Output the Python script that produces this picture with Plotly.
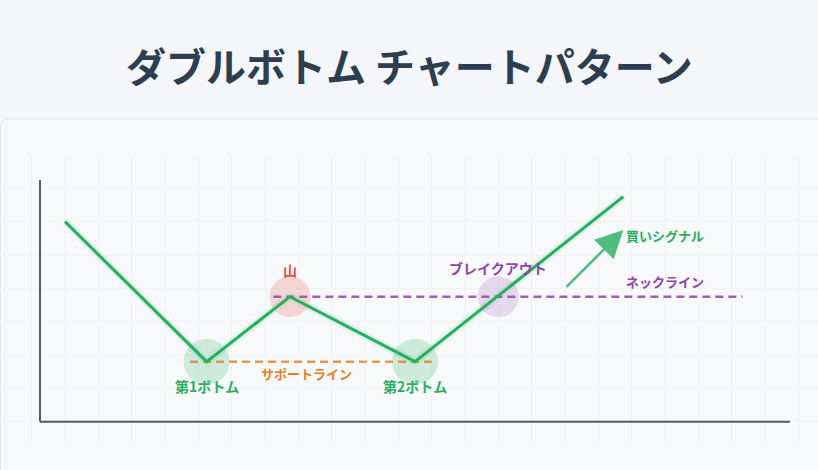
import plotly.graph_objects as go

# ---- data ----
time_x = [80, 250, 350, 500, 750]
price = [240, 72, 150, 72, 270]

bottom_x = [250, 500]
bottom_y = [72, 72]
peak_x = [350]
peak_y = [150]
breakout_x = [600]
breakout_y = [150]

support_x = [230, 520]
support_y = [72, 72]
neck_x = [330, 893]
neck_y = [150, 150]

axis_v_x = [50, 50]
axis_v_y = [0, 290]
axis_h_x = [50, 950]
axis_h_y = [0, 0]

signal_from = (680, 160)
signal_to = (750, 230)

labels = [
    ("第1ボトム", 250, 43, "#27ae60", 14),
    ("第2ボトム", 500, 43, "#27ae60", 14),
    ("山", 350, 182, "#e74c3c", 14),
    ("サポートライン", 370, 58, "#e67e22", 13),
    ("ブレイクアウト", 600, 184, "#8e44ad", 14),
    ("ネックライン", 800, 168, "#8e44ad", 13),
    ("買いシグナル", 800, 223, "#27ae60", 13),
]

TITLE = "ダブルボトム チャートパターン"
FONT = "Noto Sans CJK JP"

fig = go.Figure()

# highlight circles
fig.add_trace(go.Scatter(x=bottom_x, y=bottom_y, mode="markers",
                         marker=dict(size=46, color="rgba(39,174,96,0.2)", line=dict(width=0)),
                         hoverinfo="skip", showlegend=False))
fig.add_trace(go.Scatter(x=peak_x, y=peak_y, mode="markers",
                         marker=dict(size=41, color="rgba(231,76,60,0.2)", line=dict(width=0)),
                         hoverinfo="skip", showlegend=False))
fig.add_trace(go.Scatter(x=breakout_x, y=breakout_y, mode="markers",
                         marker=dict(size=41, color="rgba(155,89,182,0.2)", line=dict(width=0)),
                         hoverinfo="skip", showlegend=False))

# axes lines
fig.add_trace(go.Scatter(x=axis_v_x, y=axis_v_y, mode="lines",
                         line=dict(color="#555b63", width=2), hoverinfo="skip", showlegend=False))
fig.add_trace(go.Scatter(x=axis_h_x, y=axis_h_y, mode="lines",
                         line=dict(color="#555b63", width=2), hoverinfo="skip", showlegend=False))

# dashed reference lines
fig.add_trace(go.Scatter(x=support_x, y=support_y, mode="lines",
                         line=dict(color="rgba(230,126,34,0.8)", width=2.5, dash="8px,5px"),
                         hoverinfo="skip", showlegend=False))
fig.add_trace(go.Scatter(x=neck_x, y=neck_y, mode="lines",
                         line=dict(color="rgba(142,68,173,0.85)", width=2.5, dash="8px,5px"),
                         hoverinfo="skip", showlegend=False))

# glow + main price line
fig.add_trace(go.Scatter(x=time_x, y=price, mode="lines",
                         line=dict(color="rgba(39,174,96,0.10)", width=8),
                         hoverinfo="skip", showlegend=False))
fig.add_trace(go.Scatter(x=time_x, y=price, mode="lines",
                         line=dict(color="#27ae60", width=3),
                         hoverinfo="skip", showlegend=False))

# buy-signal arrow
fig.add_annotation(x=signal_to[0], y=signal_to[1], ax=signal_from[0], ay=signal_from[1],
                   xref="x", yref="y", axref="x", ayref="y", text="",
                   showarrow=True, arrowhead=2, arrowsize=2.2, arrowwidth=2.5,
                   arrowcolor="rgba(39,174,96,0.8)")

for txt, lx, ly, col, fs in labels:
    fig.add_annotation(x=lx, y=ly, xref="x", yref="y", text=f"<b>{txt}</b>", showarrow=False,
                       font=dict(family=FONT, size=fs, color=col),
                       xanchor="center", yanchor="middle")

# title
fig.add_annotation(x=0.5, y=(443 - 65) / 288, xref="paper", yref="paper",
                   text=f"<b>{TITLE}</b>", showarrow=False,
                   font=dict(family=FONT, size=40, color="#2c3e50"),
                   xanchor="center", yanchor="middle")

# card background
card_top = (443 - 119) / 288
r_x = 9 / 818
r_y = 9 / 288
fig.add_shape(type="path", xref="paper", yref="paper", layer="below",
              path=(f"M 0.0006,-0.2 L 0.0006,{card_top - r_y} "
                    f"Q 0.0006,{card_top} {r_x},{card_top} "
                    f"L 1.05,{card_top} L 1.05,-0.2 Z"),
              fillcolor="#f8f9fb", line=dict(color="#e5e7eb", width=1))

fig.update_layout(
    width=818, height=470,
    margin=dict(l=0, r=0, t=155, b=27),
    paper_bgcolor="#f5f6fa",
    plot_bgcolor="rgba(0,0,0,0)",
    showlegend=False,
    xaxis=dict(range=[2, 983.6], showgrid=True, gridcolor="#f1f2f4", gridwidth=1,
               tick0=0, dtick=40, showticklabels=False, zeroline=False, showline=False,
               ticks="", fixedrange=True),
    yaxis=dict(range=[-25.6, 320], showgrid=True, gridcolor="#f1f2f4", gridwidth=1,
               tick0=0, dtick=40, showticklabels=False, zeroline=False, showline=False,
               ticks="", fixedrange=True),
)

fig.write_html("out.html", config={"displayModeBar": False},
               post_script="document.body.style.margin='0';document.body.style.overflow='hidden';")
